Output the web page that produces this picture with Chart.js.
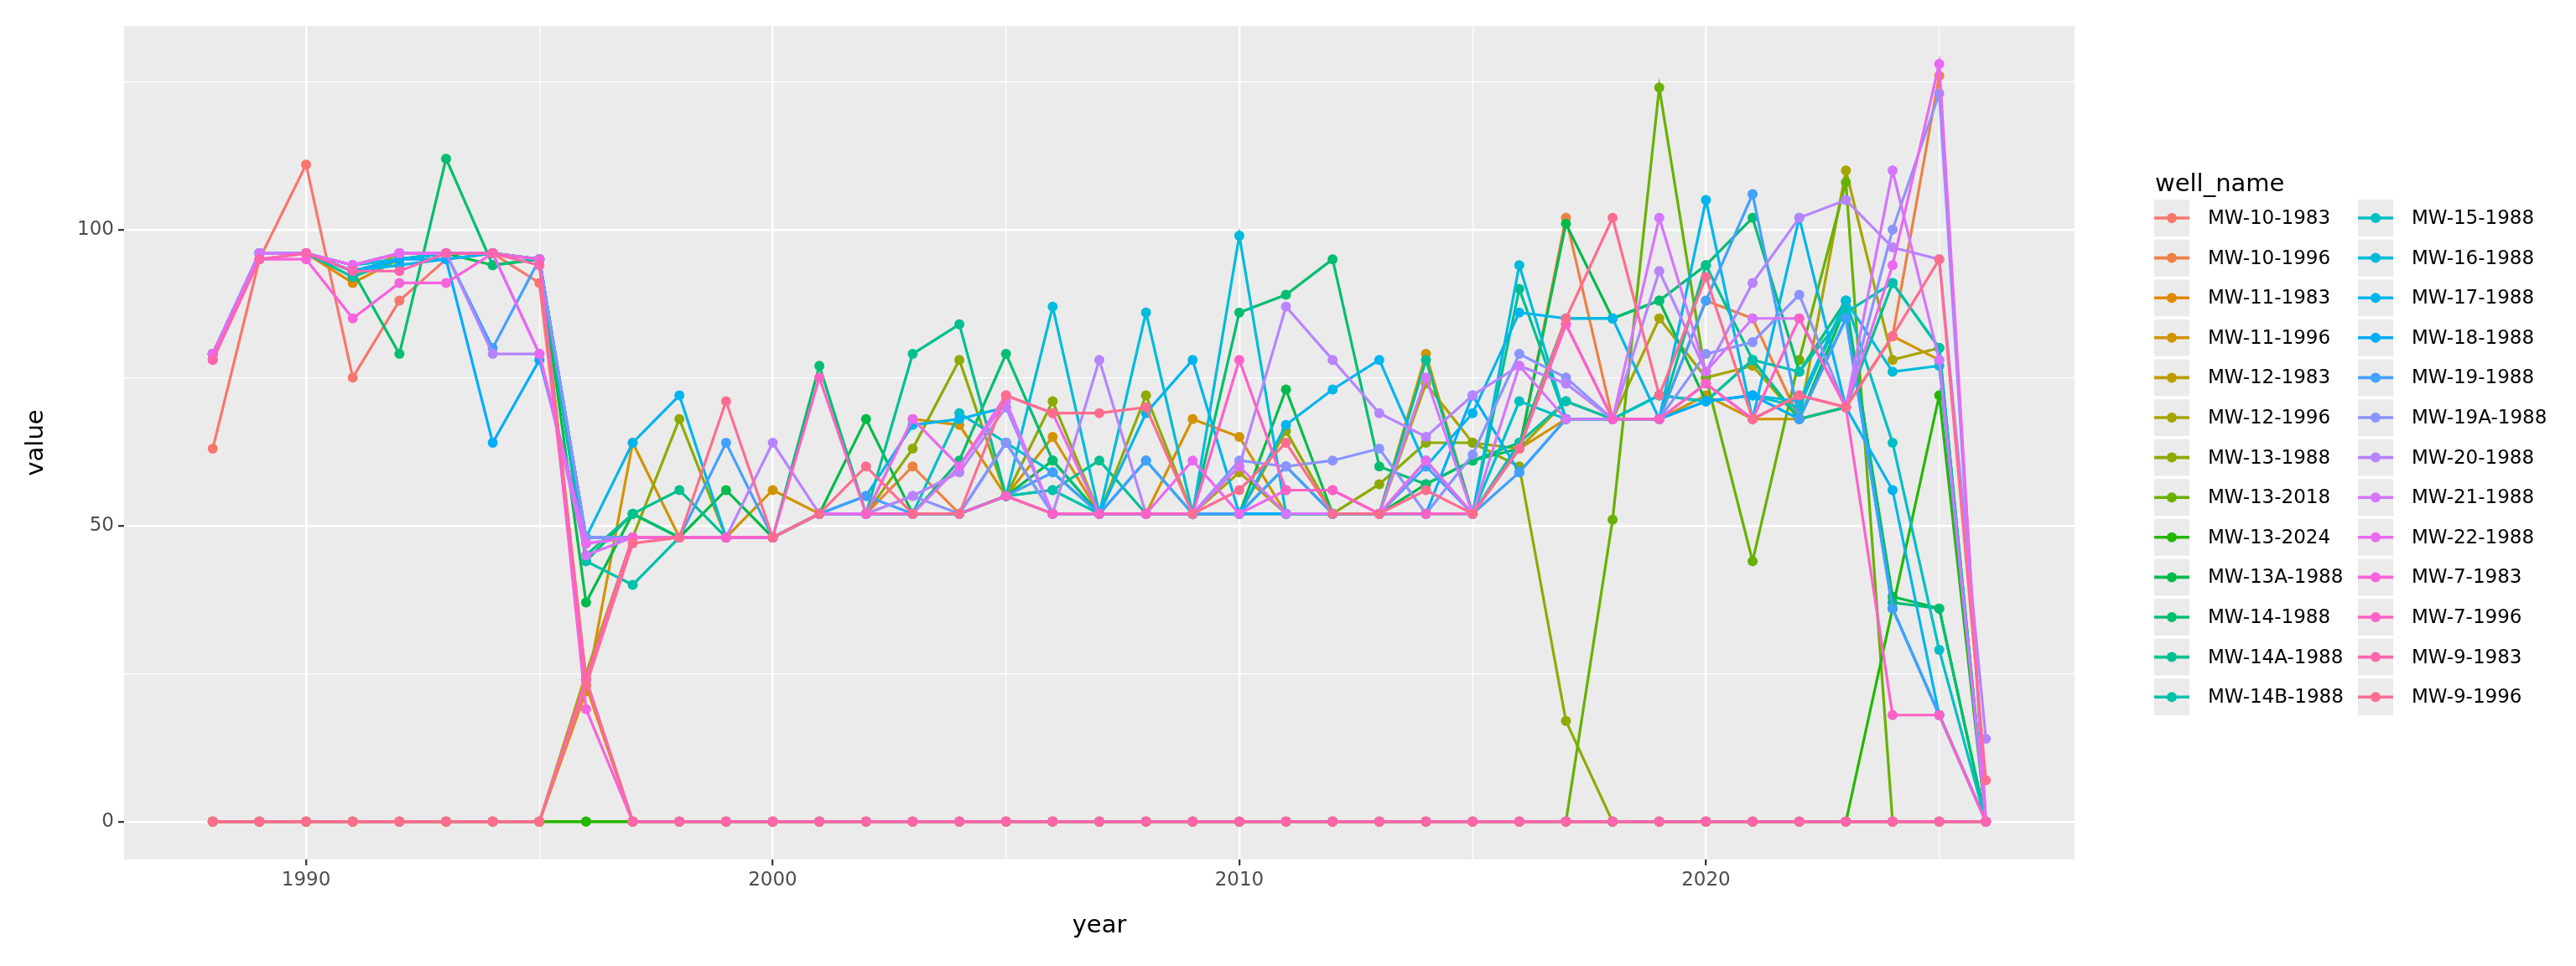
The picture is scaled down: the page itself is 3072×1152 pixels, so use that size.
<!DOCTYPE html>
<html>
<head>
<meta charset="utf-8">
<script src="https://cdn.jsdelivr.net/npm/chart.js@4/dist/chart.umd.min.js"></script>
<style>
  body { margin: 0; background: #ffffff; }
  canvas { display: block; }
</style>
</head>
<body>
<canvas id="chart" width="3072" height="1152" style="width:3072px;height:1152px"></canvas>
<script>
var years = [1988, 1989, 1990, 1991, 1992, 1993, 1994, 1995, 1996, 1997, 1998, 1999, 2000,
  2001, 2002, 2003, 2004, 2005, 2006, 2007, 2008, 2009, 2010, 2011, 2012, 2013,
  2014, 2015, 2016, 2017, 2018, 2019, 2020, 2021, 2022, 2023, 2024, 2025, 2026];

// 1988-1995 | 1996 | 1997-2006 | 2007-2016 | 2017-2026
var mw10_1983 = [63, 95, 111, 75, 88, 95, 96, 91, 24, 0, 0, 0, 0, 0, 0, 0, 0, 0, 0, 0, 0, 0, 0, 0, 0, 0, 0, 0, 0, 0, 0, 0, 0, 0, 0, 0, 0, 0, 0];
var mw10_1996 = [0, 0, 0, 0, 0, 0, 0, 0, 24, 48, 48, 48, 48, 52, 52, 60, 52, 55, 52, 52, 52, 52, 52, 52, 52, 52, 52, 52, 63, 102, 68, 68, 88, 85, 68, 70, 82, 126, 0];
var mw11_1983 = [79, 96, 96, 91, 95, 96, 96, 95, 23, 0, 0, 0, 0, 0, 0, 0, 0, 0, 0, 0, 0, 0, 0, 0, 0, 0, 0, 0, 0, 0, 0, 0, 0, 0, 0, 0, 0, 0, 0];
var mw11_1996 = [0, 0, 0, 0, 0, 0, 0, 0, 22, 64, 48, 48, 56, 52, 52, 68, 67, 55, 65, 52, 52, 68, 65, 52, 52, 52, 79, 52, 63, 68, 68, 68, 72, 68, 68, 70, 82, 78, 0];
var mw12_1983 = [79, 96, 96, 92, 96, 96, 96, 95, 24, 0, 0, 0, 0, 0, 0, 0, 0, 0, 0, 0, 0, 0, 0, 0, 0, 0, 0, 0, 0, 0, 0, 0, 0, 0, 0, 0, 0, 0, 0];
var mw12_1996 = [0, 0, 0, 0, 0, 0, 0, 0, 25, 48, 48, 48, 48, 52, 52, 52, 52, 55, 52, 52, 52, 52, 59, 52, 52, 52, 74, 64, 63, 71, 68, 85, 75, 77, 68, 110, 78, 80, 0];
var mw13_1988 = [79, 96, 96, 94, 96, 96, 96, 95, 48, 48, 68, 48, 48, 52, 52, 63, 78, 55, 71, 52, 72, 52, 52, 66, 52, 57, 64, 64, 60, 17, 0, 0, 0, 0, 0, 0, 0, 0, 0];
var mw13_2018 = [0, 0, 0, 0, 0, 0, 0, 0, 0, 0, 0, 0, 0, 0, 0, 0, 0, 0, 0, 0, 0, 0, 0, 0, 0, 0, 0, 0, 0, 0, 51, 124, 75, 44, 78, 108, 0, 0, 0];
var mw13_2024 = [0, 0, 0, 0, 0, 0, 0, 0, 0, 0, 0, 0, 0, 0, 0, 0, 0, 0, 0, 0, 0, 0, 0, 0, 0, 0, 0, 0, 0, 0, 0, 0, 0, 0, 0, 0, 36, 72, 0];
var mw13a_1988 = [79, 96, 96, 93, 95, 96, 94, 95, 37, 52, 48, 56, 48, 52, 68, 52, 52, 55, 61, 52, 52, 52, 52, 73, 52, 52, 57, 61, 63, 101, 85, 88, 71, 78, 68, 87, 38, 36, 0];
var mw14_1988 = [79, 96, 96, 93, 79, 112, 94, 95, 44, 52, 48, 48, 48, 77, 52, 52, 61, 79, 61, 52, 52, 52, 86, 89, 95, 60, 57, 61, 64, 85, 85, 88, 94, 102, 76, 88, 37, 36, 0];
var mw14a_1988 = [79, 96, 96, 93, 95, 96, 96, 95, 45, 52, 56, 48, 48, 52, 52, 79, 84, 55, 56, 61, 52, 52, 52, 52, 52, 52, 78, 52, 90, 68, 68, 68, 94, 78, 68, 70, 91, 80, 0];
var mw14b_1988 = [79, 96, 96, 92, 95, 96, 96, 95, 44, 40, 48, 48, 48, 52, 52, 52, 52, 55, 56, 52, 61, 52, 52, 52, 52, 52, 52, 52, 64, 71, 68, 72, 71, 78, 76, 86, 91, 80, 0];
var mw15_1988 = [79, 96, 96, 94, 95, 96, 96, 95, 47, 48, 48, 48, 48, 52, 52, 52, 69, 64, 59, 52, 52, 52, 52, 60, 52, 52, 61, 52, 71, 68, 68, 72, 71, 72, 70, 88, 64, 29, 0];
var mw16_1988 = [79, 96, 96, 94, 95, 96, 96, 95, 48, 48, 48, 48, 48, 52, 52, 52, 52, 55, 87, 52, 86, 52, 99, 52, 52, 52, 52, 52, 94, 68, 68, 68, 71, 72, 71, 88, 76, 77, 0];
var mw17_1988 = [79, 96, 96, 93, 94, 95, 96, 95, 48, 64, 72, 48, 48, 52, 55, 67, 68, 70, 52, 52, 69, 78, 52, 67, 73, 78, 60, 69, 86, 85, 85, 68, 105, 68, 102, 70, 56, 18, 0];
var mw18_1988 = [79, 96, 96, 93, 95, 95, 64, 78, 48, 48, 48, 48, 48, 52, 52, 52, 52, 64, 52, 52, 52, 52, 52, 52, 52, 52, 52, 72, 59, 68, 68, 68, 71, 72, 68, 85, 36, 18, 0];
var mw19_1988 = [79, 96, 96, 94, 96, 96, 80, 95, 48, 48, 48, 64, 48, 52, 55, 52, 52, 55, 59, 52, 61, 52, 52, 60, 52, 52, 60, 52, 59, 68, 68, 68, 88, 106, 68, 85, 36, 18, 0];
var mw19a_1988 = [79, 96, 96, 94, 96, 96, 96, 95, 48, 48, 48, 48, 48, 52, 52, 55, 52, 64, 52, 52, 52, 52, 61, 60, 61, 63, 52, 62, 79, 75, 68, 68, 79, 81, 89, 70, 100, 123, 0];
var mw20_1988 = [79, 96, 96, 94, 96, 96, 79, 79, 47, 48, 48, 48, 64, 52, 52, 55, 59, 70, 52, 78, 52, 52, 60, 87, 78, 69, 65, 72, 77, 74, 68, 93, 76, 91, 102, 105, 97, 95, 14];
var mw21_1988 = [79, 96, 96, 94, 96, 96, 96, 79, 45, 48, 48, 48, 48, 52, 52, 52, 60, 71, 52, 52, 52, 52, 60, 52, 52, 52, 75, 52, 77, 68, 68, 102, 76, 85, 85, 70, 110, 78, 0];
var mw22_1988 = [79, 95, 96, 94, 96, 96, 96, 79, 47, 48, 48, 48, 48, 52, 52, 68, 60, 72, 69, 52, 52, 61, 52, 56, 56, 52, 61, 52, 63, 84, 68, 68, 74, 68, 72, 70, 94, 128, 0];
var mw7_1983 = [78, 95, 95, 85, 91, 91, 96, 95, 19, 0, 0, 0, 0, 0, 0, 0, 0, 0, 0, 0, 0, 0, 0, 0, 0, 0, 0, 0, 0, 0, 0, 0, 0, 0, 0, 0, 0, 0, 0];
var mw7_1996 = [0, 0, 0, 0, 0, 0, 0, 0, 24, 48, 48, 48, 48, 75, 52, 52, 52, 55, 52, 52, 52, 52, 78, 56, 56, 52, 52, 52, 63, 84, 68, 68, 74, 68, 85, 70, 18, 18, 0];
var mw9_1983 = [78, 95, 96, 93, 93, 96, 96, 94, 24, 0, 0, 0, 0, 0, 0, 0, 0, 0, 0, 0, 0, 0, 0, 0, 0, 0, 0, 0, 0, 0, 0, 0, 0, 0, 0, 0, 0, 0, 0];
var mw9_1996 = [0, 0, 0, 0, 0, 0, 0, 0, 23, 47, 48, 71, 48, 52, 60, 52, 52, 72, 69, 69, 70, 52, 56, 64, 52, 52, 56, 52, 63, 85, 102, 72, 92, 68, 72, 70, 82, 95, 7];

var wellNames = ["MW-10-1983", "MW-10-1996", "MW-11-1983", "MW-11-1996", "MW-12-1983",
  "MW-12-1996", "MW-13-1988", "MW-13-2018", "MW-13-2024", "MW-13A-1988", "MW-14-1988",
  "MW-14A-1988", "MW-14B-1988", "MW-15-1988", "MW-16-1988", "MW-17-1988", "MW-18-1988",
  "MW-19-1988", "MW-19A-1988", "MW-20-1988", "MW-21-1988", "MW-22-1988", "MW-7-1983",
  "MW-7-1996", "MW-9-1983", "MW-9-1996"];
var wellValues = [mw10_1983, mw10_1996, mw11_1983, mw11_1996, mw12_1983, mw12_1996,
  mw13_1988, mw13_2018, mw13_2024, mw13a_1988, mw14_1988, mw14a_1988, mw14b_1988,
  mw15_1988, mw16_1988, mw17_1988, mw18_1988, mw19_1988, mw19a_1988, mw20_1988,
  mw21_1988, mw22_1988, mw7_1983, mw7_1996, mw9_1983, mw9_1996];

var xTicks = [1990, 1995, 2000, 2005, 2010, 2015, 2020, 2025];
var yTicks = [0, 25, 50, 75, 100, 125];

// ggplot-style hue palette (hcl, c = 100, l = 65)
function hcl(h, c, l) {
  var hr = h * Math.PI / 180;
  var U = c * Math.cos(hr), V = c * Math.sin(hr);
  var Xn = 95.047, Yn = 100, Zn = 108.883;
  var Y = Yn * Math.pow((l + 16) / 116, 3);
  var d = Xn + 15 * Yn + 3 * Zn;
  var u = U / (13 * l) + 4 * Xn / d;
  var v = V / (13 * l) + 9 * Yn / d;
  var X = 9 * Y * u / (4 * v);
  var Z = (9 * Y / v - X - 15 * Y) / 3;
  X /= 100; Y /= 100; Z /= 100;
  var rgb = [
    3.240479 * X - 1.53715 * Y - 0.498535 * Z,
    -0.969256 * X + 1.875992 * Y + 0.041556 * Z,
    0.055648 * X - 0.204043 * Y + 1.057311 * Z
  ].map(function (t) {
    t = t <= 0.0031308 ? 12.92 * t : 1.055 * Math.pow(t, 1 / 2.4) - 0.055;
    t = Math.max(0, Math.min(1, t));
    return Math.round(t * 255);
  });
  return "rgb(" + rgb.join(",") + ")";
}

var n = wellNames.length;
var datasets = wellNames.map(function (name, i) {
  var color = hcl(15 + i * 360 / (n + 0), 100, 65);
  return {
    label: name,
    data: years.map(function (yr, j) { return { x: yr, y: wellValues[i][j] }; }),
    borderColor: color,
    backgroundColor: color,
    pointBackgroundColor: color,
    pointBorderWidth: 0,
    pointRadius: 6,
    pointHoverRadius: 6,
    borderWidth: 3.2,
    tension: 0,
    fill: false,
    order: n - i,
  };
});

var panelBg = {
  id: "panelBg",
  beforeDraw(chart) {
    var c = chart.ctx, a = chart.chartArea;
    c.save();
    c.fillStyle = "#ffffff";
    c.fillRect(0, 0, chart.width, chart.height);
    c.fillStyle = "#EBEBEB";
    c.fillRect(a.left, a.top, a.right - a.left, a.bottom - a.top);
    c.restore();
  },
};

var wellLegend = {
  id: "wellLegend",
  afterDraw(chart) {
    var c = chart.ctx;
    c.save();
    c.fillStyle = "#000000";
    c.font = '29px "DejaVu Sans"';
    c.textBaseline = "alphabetic";
    c.fillText("well_name", 2570, 228);
    chart.data.datasets.forEach(function (ds, i) {
      var col = Math.floor(i / 13), row = i % 13;
      var kx = col ? 2812 : 2569;
      var ky = 238 + row * 47.6;
      c.fillStyle = "#EBEBEB";
      c.fillRect(kx, ky, 42, 44);
      c.strokeStyle = ds.borderColor;
      c.lineWidth = 3.6;
      c.beginPath();
      c.moveTo(kx, ky + 22);
      c.lineTo(kx + 42, ky + 22);
      c.stroke();
      c.fillStyle = ds.borderColor;
      c.beginPath();
      c.arc(kx + 21, ky + 22, 6, 0, 2 * Math.PI);
      c.fill();
      c.fillStyle = "#000000";
      c.font = '23px "DejaVu Sans"';
      c.textBaseline = "middle";
      c.fillText(ds.label, kx + 64, ky + 23);
    });
    c.restore();
  },
};

function isMajor(v) {
  return v % 50 === 0;
}

var chart = new Chart("chart", {
  type: "line",
  data: { datasets: datasets },
  options: {
    responsive: false,
    animation: false,
    devicePixelRatio: 1,
    layout: { padding: { top: 31, right: 598, left: 0, bottom: 0 } },
    plugins: {
      legend: { display: false },
      tooltip: { enabled: false },
    },
    scales: {
      x: {
        type: "linear",
        min: 1986.1,
        max: 2027.9,
        afterBuildTicks: function (s) {
          s.ticks = xTicks.map(function (v) { return { value: v }; });
        },
        afterFit: function (s) { s.height = 127; },
        border: { display: false },
        grid: {
          color: "#ffffff",
          lineWidth: function (ctx) { return ctx.tick && ctx.tick.value % 10 === 0 ? 2.4 : 1.2; },
          drawTicks: true,
          tickLength: 7,
          tickWidth: 2.2,
          tickColor: function (ctx) { return ctx.tick && ctx.tick.value % 10 === 0 ? "#333333" : "rgba(0,0,0,0)"; },
        },
        ticks: {
          autoSkip: false,
          maxRotation: 0,
          padding: 4,
          color: "#4D4D4D",
          font: { family: "DejaVu Sans", size: 23 },
          callback: function (v) { return v % 10 === 0 ? String(v) : ""; },
        },
        title: {
          display: true,
          text: "year",
          color: "#000000",
          font: { family: "DejaVu Sans", size: 29 },
          padding: { top: 0, bottom: 30 },
        },
      },
      y: {
        min: -6.4,
        max: 134.4,
        afterBuildTicks: function (s) {
          s.ticks = yTicks.map(function (v) { return { value: v }; });
        },
        afterFit: function (s) { s.width = 148; },
        border: { display: false },
        grid: {
          color: "#ffffff",
          lineWidth: function (ctx) { return ctx.tick && isMajor(ctx.tick.value) ? 2.4 : 1.2; },
          drawTicks: true,
          tickLength: 7,
          tickWidth: 2.2,
          tickColor: function (ctx) { return ctx.tick && isMajor(ctx.tick.value) ? "#333333" : "rgba(0,0,0,0)"; },
        },
        ticks: {
          autoSkip: false,
          padding: 5,
          color: "#4D4D4D",
          font: { family: "DejaVu Sans", size: 23 },
          callback: function (v) { return isMajor(v) ? String(v) : ""; },
        },
        title: {
          display: true,
          text: "value",
          color: "#000000",
          font: { family: "DejaVu Sans", size: 29 },
          padding: { top: 26, bottom: 0 },
        },
      },
    },
  },
  plugins: [panelBg, wellLegend],
});
</script>
</body>
</html>
